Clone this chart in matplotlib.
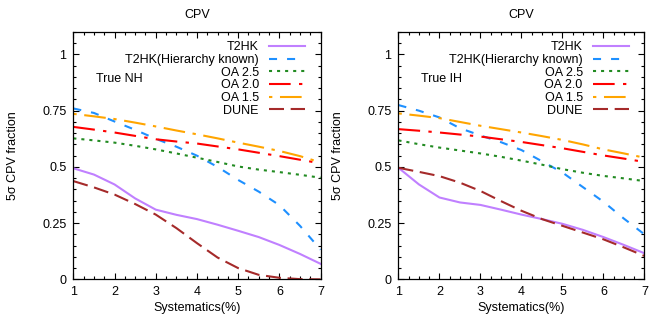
import matplotlib
matplotlib.use("Agg")
import matplotlib.pyplot as plt
from matplotlib.ticker import MultipleLocator, FixedLocator

plt.rcParams['font.family'] = ['Liberation Sans', 'DejaVu Sans']
plt.rcParams['font.size'] = 9
plt.rcParams['lines.scale_dashes'] = False

# Systematic uncertainty (%)
sys_pct = [1, 1.5, 2, 2.5, 3, 3.5, 4, 4.5, 5, 5.5, 6, 6.5, 7]

# True normal hierarchy: fraction of delta_CP with 5 sigma CPV sensitivity
nh_t2hk = [0.494, 0.466, 0.422, 0.360, 0.310, 0.287, 0.268, 0.243, 0.216, 0.188, 0.153, 0.113, 0.069]
nh_t2hk_hk = [0.760, 0.740, 0.702, 0.665, 0.625, 0.590, 0.550, 0.500, 0.442, 0.390, 0.330, 0.238, 0.132]
nh_oa25 = [0.627, 0.618, 0.608, 0.594, 0.578, 0.560, 0.541, 0.522, 0.502, 0.488, 0.477, 0.465, 0.452]
nh_oa20 = [0.678, 0.666, 0.653, 0.638, 0.623, 0.613, 0.604, 0.591, 0.578, 0.563, 0.548, 0.532, 0.516]
nh_oa15 = [0.736, 0.725, 0.713, 0.697, 0.680, 0.662, 0.645, 0.627, 0.608, 0.590, 0.571, 0.548, 0.520]
nh_dune = [0.437, 0.409, 0.377, 0.335, 0.288, 0.228, 0.161, 0.097, 0.050, 0.020, 0.007, 0.001, 0.000]

# True inverted hierarchy
ih_t2hk = [0.496, 0.422, 0.364, 0.342, 0.331, 0.310, 0.288, 0.268, 0.247, 0.220, 0.188, 0.153, 0.116]
ih_t2hk_hk = [0.775, 0.750, 0.720, 0.672, 0.640, 0.610, 0.575, 0.525, 0.475, 0.410, 0.345, 0.270, 0.200]
ih_oa25 = [0.618, 0.601, 0.586, 0.573, 0.560, 0.545, 0.528, 0.510, 0.490, 0.474, 0.460, 0.449, 0.437]
ih_oa20 = [0.668, 0.661, 0.653, 0.644, 0.635, 0.623, 0.611, 0.597, 0.583, 0.567, 0.551, 0.537, 0.522]
ih_oa15 = [0.738, 0.728, 0.717, 0.700, 0.683, 0.668, 0.653, 0.637, 0.620, 0.600, 0.578, 0.560, 0.541]
ih_dune = [0.496, 0.478, 0.459, 0.430, 0.393, 0.348, 0.305, 0.268, 0.238, 0.208, 0.178, 0.142, 0.104]

labels = ["T2HK", "T2HK(Hierarchy known)", "OA 2.5", "OA 2.0", "OA 1.5", "DUNE"]
colors = ["#c080ff", "#1e90ff", "#228b22", "#ff0000", "#ffa500", "#a52a2a"]
dash_styles = [None, (5.8, 7.2), (2.2, 3.6), (15.6, 6.0, 2.4, 6.0), (2.4, 5.5, 15.6, 5.5), (10.8, 4.8)]

panels = [
    ("True NH", [nh_t2hk, nh_t2hk_hk, nh_oa25, nh_oa20, nh_oa15, nh_dune]),
    ("True IH", [ih_t2hk, ih_t2hk_hk, ih_oa25, ih_oa20, ih_oa15, ih_dune]),
]

fig = plt.figure(figsize=(6.49, 3.20), dpi=100)
axes_rects = [[0.113, 0.127, 0.381, 0.773], [0.614, 0.127, 0.379, 0.773]]

for rect, (tag, series) in zip(axes_rects, panels):
    ax = fig.add_axes(rect)
    for ys, lab, col, ds in zip(series, labels, colors, dash_styles):
        line, = ax.plot(sys_pct, ys, color=col, lw=1.5, label=lab)
        if ds is not None:
            line.set_dashes(ds)
            line.set_dash_capstyle('butt')
    ax.set_xlim(1, 7)
    ax.set_ylim(0, 1.1)
    ax.xaxis.set_major_locator(MultipleLocator(1))
    ax.xaxis.set_minor_locator(MultipleLocator(0.25))
    ax.yaxis.set_major_locator(FixedLocator([0, 0.25, 0.5, 0.75, 1.0]))
    ax.yaxis.set_minor_locator(MultipleLocator(0.05))
    ax.set_yticklabels(["0", "0.25", "0.5", "0.75", "1"])
    ax.tick_params(which='both', direction='in', top=True, right=True, width=0.8)
    ax.tick_params(which='major', length=4.5, pad=5)
    ax.tick_params(which='minor', length=2.2)
    for sp in ax.spines.values():
        sp.set_linewidth(0.9)
    ax.set_title("CPV", fontsize=9, pad=10)
    ax.set_xlabel("Systematics(%)", labelpad=3)
    ax.set_ylabel("5σ CPV fraction", labelpad=17)
    ax.text(0.09, 0.81, tag, transform=ax.transAxes, ha='left', va='center')
    ax.legend(loc='upper right', bbox_to_anchor=(0.937, 0.962), frameon=False,
              markerfirst=False, handlelength=2.9, handletextpad=0.8,
              labelspacing=0.05, borderaxespad=0.0, borderpad=0.0)

fig.savefig("out.png", dpi=100)
